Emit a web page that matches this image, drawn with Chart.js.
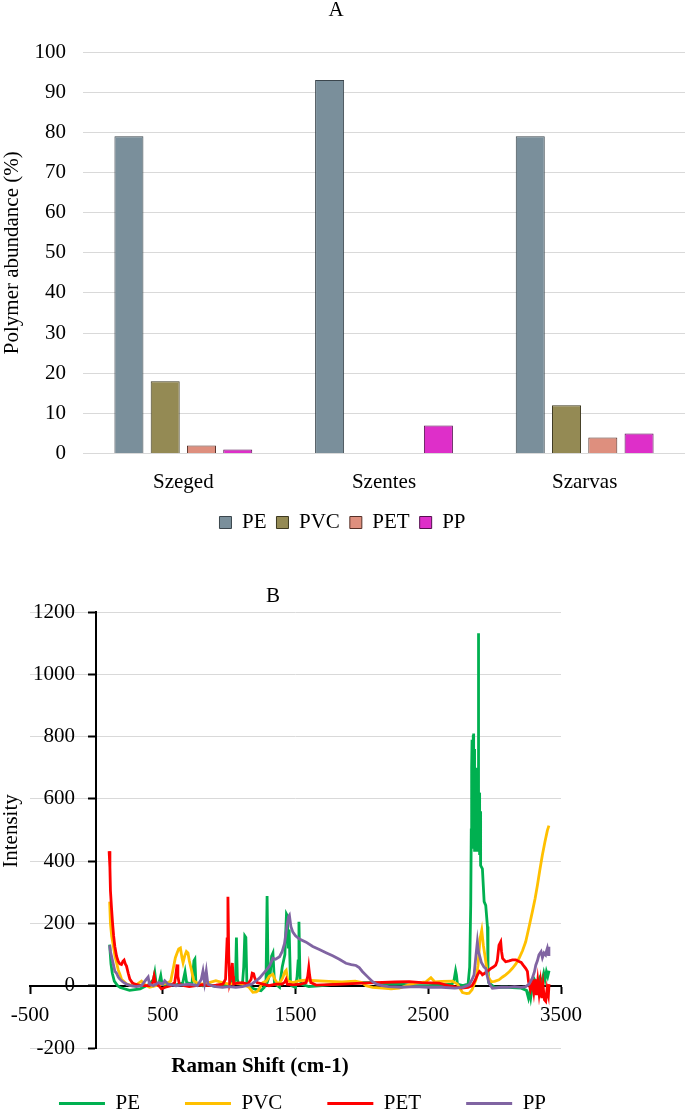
<!DOCTYPE html>
<html>
<head>
<meta charset="utf-8">
<script src="https://cdn.jsdelivr.net/npm/chart.js@4.4.1/dist/chart.umd.min.js"></script>
<style>
  html, body { margin: 0; padding: 0; background: #fff; }
  #page { position: relative; width: 685px; height: 1110px; overflow: hidden; }
  .box { position: absolute; left: 0; width: 685px; }
</style>
</head>
<body>
<div id="page">
  <div class="box" style="top:0; height:543px;"><canvas id="graficoA"></canvas></div>
  <div class="box" style="top:580px; height:544px;"><canvas id="graficoB"></canvas></div>
</div>
<script>
// --- A: polymer abundance per site (%)
const sitios = ["Szeged", "Szentes", "Szarvas"];
const abundanciaPE = [79, 93, 79];
const abundanciaPVC = [18, null, 12];
const abundanciaPET = [2, null, 4];
const abundanciaPP = [1, 7, 5];

// --- B: Raman spectra (shift in cm-1, intensity)
const shiftPE = [100, 110, 120, 135, 160, 180, 250, 330, 400, 430, 440, 450, 470, 485, 495, 520, 560, 600, 650, 668, 680, 720, 735, 742, 750, 800, 850, 900, 960, 1010, 1020, 1035, 1048, 1055, 1062, 1070, 1100, 1110, 1118, 1126, 1134, 1160, 1200, 1240, 1265, 1278, 1286, 1294, 1310, 1320, 1330, 1342, 1365, 1380, 1400, 1420, 1432, 1438, 1446, 1452, 1462, 1470, 1500, 1512, 1520, 1526, 1534, 1545, 1600, 1700, 1800, 1900, 2000, 2100, 2200, 2300, 2400, 2500, 2600, 2680, 2695, 2706, 2712, 2720, 2760, 2800, 2812, 2820, 2824, 2827, 2830, 2833, 2835, 2837, 2839, 2841, 2843, 2845, 2847, 2849, 2851, 2853, 2855, 2857, 2859, 2861, 2863, 2865, 2867, 2869, 2871, 2873, 2875, 2877, 2878, 2879, 2881, 2883, 2885, 2887, 2889, 2891, 2893, 2896, 2908, 2921, 2933, 2946, 2950, 2955, 3000, 3100, 3200, 3240, 3255, 3265, 3272, 3285, 3300, 3320, 3340, 3355, 3370, 3380, 3390, 3400, 3410];
const intensidadPE = [132, 70, 40, 15, 0, -6, -15, -10, 5, 20, 42, 8, 5, 32, 5, 0, 5, 3, 8, 45, 10, 5, 80, 85, 5, 0, 3, -3, 0, 5, 20, 8, 20, 155, 20, 8, 5, 60, 160, 155, 5, -5, -12, -16, -5, 20, 288, 20, 40, 95, 105, 5, 0, -5, 60, 100, 230, 225, 120, 180, 15, 0, -5, 30, 80, 205, 20, 5, -3, 0, 5, 8, 10, 10, 5, 5, 0, 0, 3, 5, 20, 48, 35, 5, 0, 5, 60, 260, 500, 700, 790, 500, 780, 450, 805, 810, 440, 760, 430, 720, 440, 700, 430, 680, 440, 660, 430, 640, 440, 620, 430, 650, 700, 1000, 1132, 700, 440, 620, 430, 600, 420, 560, 400, 386, 375, 270, 258, 190, 60, 10, -5, -5, -8, -15, -40, -20, -38, 0, 20, 5, 25, 10, 40, 20, 45, 30, 48];

const shiftPVC = [100, 106, 115, 127, 140, 152, 165, 177, 190, 202, 230, 270, 300, 340, 360, 400, 450, 500, 540, 560, 578, 595, 608, 620, 633, 645, 653, 665, 678, 690, 700, 715, 733, 760, 800, 850, 900, 950, 1000, 1050, 1100, 1150, 1179, 1205, 1217, 1240, 1254, 1280, 1304, 1329, 1345, 1367, 1390, 1404, 1420, 1430, 1442, 1480, 1530, 1580, 1650, 1750, 1850, 1950, 2000, 2031, 2080, 2156, 2220, 2281, 2332, 2400, 2432, 2480, 2520, 2550, 2600, 2683, 2720, 2758, 2790, 2808, 2830, 2860, 2875, 2890, 2903, 2915, 2930, 2945, 2958, 2975, 3000, 3033, 3060, 3083, 3110, 3134, 3160, 3184, 3210, 3234, 3260, 3284, 3305, 3322, 3340, 3359, 3378, 3397, 3409];
const intensidadPVC = [270, 200, 160, 130, 95, 74, 50, 37, 20, 16, 5, 0, 3, 15, 5, -5, 0, 5, 10, 15, 53, 90, 105, 118, 121, 90, 74, 95, 110, 105, 80, 53, 16, 8, 5, 10, 16, 10, 5, 8, 5, -5, -21, -20, -16, 0, 10, 15, 31, 37, 20, 5, 15, 26, 45, 50, 16, 10, 16, 18, 16, 14, 12, 15, 10, 0, -5, -8, -10, -8, 0, 8, 10, 12, 26, 12, 14, 15, 5, -22, -25, -24, -13, 20, 66, 150, 178, 130, 88, 40, 24, 13, 14, 19, 28, 35, 45, 56, 70, 88, 112, 141, 190, 237, 280, 322, 370, 418, 460, 498, 514];

const shiftPET = [96, 102, 106, 114, 122, 130, 139, 152, 164, 177, 189, 200, 209, 218, 227, 240, 252, 270, 289, 320, 352, 400, 425, 435, 445, 470, 490, 520, 560, 590, 600, 608, 614, 625, 660, 700, 750, 800, 850, 900, 953, 973, 985, 991, 997, 1004, 1015, 1024, 1030, 1034, 1060, 1100, 1140, 1165, 1174, 1185, 1192, 1210, 1254, 1300, 1350, 1400, 1420, 1429, 1438, 1480, 1540, 1580, 1592, 1600, 1606, 1615, 1655, 1700, 1855, 2000, 2106, 2250, 2357, 2450, 2582, 2650, 2750, 2800, 2830, 2850, 2871, 2885, 2900, 2908, 2925, 2945, 2970, 2990, 3008, 3020, 3033, 3046, 3052, 3060, 3083, 3110, 3134, 3160, 3184, 3200, 3215, 3235, 3247, 3255, 3270, 3285, 3295, 3305, 3315, 3325, 3335, 3345, 3355, 3365, 3375, 3385, 3395, 3405, 3410];
const intensidadPET = [432, 380, 305, 250, 200, 160, 126, 95, 79, 70, 68, 78, 82, 70, 63, 40, 21, 10, 5, 2, 0, 0, 10, 31, 10, 0, -10, -5, 0, 10, 40, 68, 30, 5, 0, -3, 0, 3, 0, 2, 5, 21, 150, 286, 100, 10, 30, 73, 30, 5, 8, 10, 5, 20, 40, 38, 26, 10, 5, 0, 5, 5, 12, 20, 5, 3, 5, 10, 30, 58, 35, 10, 2, 3, 5, 8, 10, 12, 13, 10, 8, 0, -8, -5, 0, 15, 35, 46, 40, 35, 40, 46, 55, 60, 66, 80, 130, 141, 110, 88, 77, 80, 83, 83, 78, 75, 66, 55, 46, 14, -13, 10, -20, 20, -30, 15, -25, 10, -40, 0, -45, -50, -10, -30, 5];

const shiftPP = [100, 106, 114, 127, 139, 152, 165, 177, 200, 227, 260, 300, 340, 377, 390, 400, 430, 470, 500, 515, 540, 600, 650, 700, 760, 790, 803, 815, 828, 840, 870, 900, 950, 1000, 1050, 1100, 1130, 1170, 1204, 1230, 1254, 1280, 1304, 1330, 1350, 1380, 1400, 1417, 1435, 1448, 1454, 1465, 1480, 1500, 1530, 1580, 1630, 1680, 1730, 1780, 1830, 1880, 1920, 1956, 1980, 2005, 2040, 2081, 2110, 2150, 2200, 2300, 2400, 2500, 2600, 2700, 2760, 2808, 2830, 2845, 2860, 2870, 2878, 2885, 2900, 2920, 2933, 2945, 2958, 2983, 3050, 3100, 3150, 3200, 3234, 3260, 3284, 3300, 3310, 3322, 3334, 3350, 3360, 3372, 3384, 3390, 3397, 3405, 3409];
const intensidadPP = [130, 110, 95, 70, 47, 40, 28, 21, 12, 5, 0, -3, 0, 21, 28, 5, 0, 10, 5, 16, 5, 0, 3, 5, 0, 20, 47, 10, 47, 5, 0, -3, -5, -3, -5, -3, 0, 5, 16, 25, 37, 50, 63, 88, 85, 93, 110, 135, 190, 222, 226, 190, 172, 160, 150, 140, 126, 116, 106, 96, 85, 72, 68, 65, 58, 45, 30, 13, 5, 0, -3, -5, -3, -5, -5, -8, -5, 3, 20, 35, 100, 141, 110, 99, 75, 60, 56, 30, 8, -8, -5, -5, -3, -5, -3, 5, 24, 45, 66, 80, 99, 109, 90, 105, 99, 110, 120, 100, 125];

const puntos = (xs, ys) => xs.map((x, i) => ({ x: x, y: ys[i] }));

Chart.defaults.font.family = "'Liberation Serif', 'Times New Roman', serif";
Chart.defaults.font.size = 21;
Chart.defaults.color = "#000";

// titles and axis captions placed where the original figure has them
const textosExtra = {
    id: "textosExtra",
    afterDraw(chart, args, opts) {
        const ctx = chart.ctx;
        (opts.items || []).forEach(t => {
            ctx.save();
            ctx.font = t.font || "21px 'Liberation Serif'";
            ctx.fillStyle = "#000";
            ctx.textAlign = "center";
            ctx.textBaseline = "middle";
            ctx.translate(t.x, t.y);
            if (t.rot) ctx.rotate(t.rot);
            ctx.fillText(t.text, 0, 0);
            ctx.restore();
        });
    }
};

const barra = (label, data, fondo, borde) => ({
    label: label, data: data, backgroundColor: fondo, borderColor: borde, borderWidth: 1,
    categoryPercentage: 0.723, barPercentage: 0.8
});

new Chart(document.getElementById("graficoA"), {
    type: "bar",
    data: {
        labels: sitios,
        datasets: [
            barra("PE", abundanciaPE, "#7a8f9b", "#3b464d"),
            barra("PVC", abundanciaPVC, "#948a54", "#3d3920"),
            barra("PET", abundanciaPET, "#de8f7e", "#553028"),
            barra("PP", abundanciaPP, "#de2fc9", "#551050")
        ]
    },
    plugins: [textosExtra],
    options: {
        responsive: true,
        maintainAspectRatio: false,
        animation: false,
        layout: { padding: { top: 52, left: 0, right: 0, bottom: 0 } },
        plugins: {
            legend: { position: "bottom", labels: { boxWidth: 12, boxHeight: 12, padding: 10 } },
            tooltip: { enabled: false },
            textosExtra: { items: [{ text: "A", x: 336, y: 10 }] }
        },
        scales: {
            x: {
                grid: { display: false },
                border: { color: "#d9d9d9", width: 1 },
                ticks: { padding: 8 },
                afterFit: s => { s.height = 48.5; }
            },
            y: {
                min: 0, max: 100,
                ticks: { stepSize: 10, padding: 17 },
                grid: { color: "#d9d9d9", drawTicks: false },
                border: { display: false },
                title: { display: true, text: "Polymer abundance (%)", padding: 0 },
                afterFit: s => { s.width = 83; }
            }
        }
    }
});

const linea = (label, xs, ys, color, orden) => ({
    label: label, data: puntos(xs, ys), borderColor: color, backgroundColor: color,
    borderWidth: 2.8, pointRadius: 0, tension: 0, fill: false, order: orden
});

// empty side boxes: keep the plot at 30..561 while the legend gets the full width
const relleno = (lado, ancho) => ({
    axis: "y", position: lado, display: true,
    ticks: { display: false }, grid: { display: false }, border: { display: false },
    afterFit: s => { s.width = ancho; }
});

new Chart(document.getElementById("graficoB"), {
    type: "line",
    data: {
        datasets: [
            linea("PE", shiftPE, intensidadPE, "#00b050", 4),
            linea("PVC", shiftPVC, intensidadPVC, "#ffc000", 3),
            linea("PET", shiftPET, intensidadPET, "#ff0000", 2),
            linea("PP", shiftPP, intensidadPP, "#8064a2", 1)
        ]
    },
    plugins: [textosExtra],
    options: {
        responsive: true,
        maintainAspectRatio: false,
        animation: false,
        layout: { padding: { top: 32, left: 0, right: 80, bottom: 0 } },
        plugins: {
            legend: {
                position: "bottom",
                labels: {
                    usePointStyle: true, pointStyle: "line", pointStyleWidth: 46, padding: 45,
                    sort: (a, b) => a.datasetIndex - b.datasetIndex
                }
            },
            tooltip: { enabled: false },
            textosExtra: {
                items: [
                    { text: "B", x: 273, y: 16 },
                    { text: "Intensity", x: 11, y: 251, rot: -Math.PI / 2 },
                    { text: "Raman Shift (cm-1)", x: 260, y: 487, font: "bold 21px 'Liberation Serif'" }
                ]
            }
        },
        scales: {
            x: {
                type: "linear",
                position: { y: 0 },
                min: -500, max: 3500,
                ticks: { stepSize: 1000, padding: 10, format: { useGrouping: false } },
                grid: { drawOnChartArea: false, tickLength: 7, tickColor: "#000", tickWidth: 2 },
                border: { color: "#000", width: 2 }
            },
            y: {
                type: "linear",
                position: { x: 0 },
                min: -200, max: 1200,
                ticks: { stepSize: 200, display: false },
                grid: { color: "#d9d9d9", tickLength: 7, tickColor: "#000", tickWidth: 2 },
                border: { color: "#000", width: 2 }
            },
            // labels of the vertical axis, right-aligned a little left of the axis line
            yEtiquetas: {
                type: "linear",
                axis: "y",
                position: { x: -161 },
                min: -200, max: 1200,
                ticks: { stepSize: 200, format: { useGrouping: false } },
                grid: { display: false },
                border: { display: false }
            },
            margenIzq: relleno("left", 30),
            margenDer: relleno("right", 44)
        }
    }
});
</script>
</body>
</html>
